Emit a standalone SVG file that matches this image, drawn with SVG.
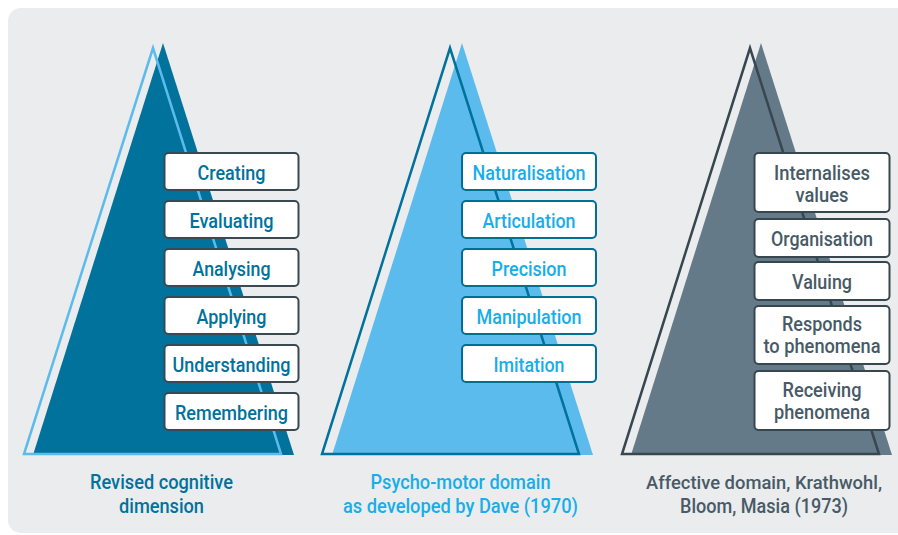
<svg xmlns="http://www.w3.org/2000/svg" width="898" height="535" viewBox="0 0 898 535">
<style>
.t{font-family:Roboto,"Liberation Sans",sans-serif;font-weight:500;font-size:20px;text-anchor:middle;}
.s{font-size:19px;}
.c1{fill:#00729c;}
.c2{fill:#17aeea;}
.c3{fill:#475a66;}
.b{fill:#ffffff;stroke-width:2;}
.b1{stroke:#3a4954;}
.b2{stroke:#006f94;}
.b3{stroke:#37474f;}
.o{fill:none;stroke-width:2.5;stroke-linejoin:miter;}
</style>
<rect x="8" y="8" width="906" height="525" rx="13" fill="#ebecee"/>
<g id="pyramid-cognitive">
<polygon points="163,43 294,455 33,455" fill="#00729c"/>
<polygon class="o" points="153,48 281,454 24,454" stroke="#5bbbed"/>
</g>
<g id="pyramid-psychomotor">
<polygon points="462,43 593,455 332,455" fill="#5bbbed"/>
<polygon class="o" points="450,48 579,454 322,454" stroke="#00729c"/>
</g>
<g id="pyramid-affective">
<polygon points="761,43 892,455 631,455" fill="#657a89"/>
<polygon class="o" points="750,48 879,454 622,454" stroke="#37474f"/>
</g>
<g id="connectors"></g>
<g id="creating"><rect class="b b1" x="164.5" y="153" width="134" height="37" rx="4"/><text class="t c1" x="231.5" y="180" textLength="68" lengthAdjust="spacingAndGlyphs">Creating</text></g>
<g id="evaluating"><rect class="b b1" x="164.5" y="201" width="134" height="37" rx="4"/><text class="t c1" x="231.5" y="228" textLength="84" lengthAdjust="spacingAndGlyphs">Evaluating</text></g>
<g id="analysing"><rect class="b b1" x="164.5" y="249" width="134" height="37" rx="4"/><text class="t c1" x="231.5" y="276" textLength="78" lengthAdjust="spacingAndGlyphs">Analysing</text></g>
<g id="applying"><rect class="b b1" x="164.5" y="297" width="134" height="37" rx="4"/><text class="t c1" x="231.5" y="324" textLength="70" lengthAdjust="spacingAndGlyphs">Applying</text></g>
<g id="understanding"><rect class="b b1" x="164.5" y="345" width="134" height="37" rx="4"/><text class="t c1" x="231.5" y="372" textLength="118" lengthAdjust="spacingAndGlyphs">Understanding</text></g>
<g id="remembering"><rect class="b b1" x="164.5" y="393" width="134" height="37" rx="4"/><text class="t c1" x="231.5" y="420" textLength="113" lengthAdjust="spacingAndGlyphs">Remembering</text></g>
<g id="naturalisation"><rect class="b b2" x="462" y="153" width="134" height="37" rx="4"/><text class="t c2" x="529" y="180" textLength="113" lengthAdjust="spacingAndGlyphs">Naturalisation</text></g>
<g id="articulation"><rect class="b b2" x="462" y="201" width="134" height="37" rx="4"/><text class="t c2" x="529" y="228" textLength="93" lengthAdjust="spacingAndGlyphs">Articulation</text></g>
<g id="precision"><rect class="b b2" x="462" y="249" width="134" height="37" rx="4"/><text class="t c2" x="529" y="276" textLength="75" lengthAdjust="spacingAndGlyphs">Precision</text></g>
<g id="manipulation"><rect class="b b2" x="462" y="297" width="134" height="37" rx="4"/><text class="t c2" x="529" y="324" textLength="105" lengthAdjust="spacingAndGlyphs">Manipulation</text></g>
<g id="imitation"><rect class="b b2" x="462" y="345" width="134" height="37" rx="4"/><text class="t c2" x="529" y="372" textLength="71" lengthAdjust="spacingAndGlyphs">Imitation</text></g>
<g id="internalises"><rect class="b b3" x="754.5" y="153" width="135" height="59" rx="4"/><text class="t c3" x="822" y="180" textLength="96" lengthAdjust="spacingAndGlyphs">Internalises</text><text class="t c3" x="822" y="202" textLength="53" lengthAdjust="spacingAndGlyphs">values</text></g>
<g id="organisation"><rect class="b b3" x="754.5" y="219" width="135" height="38" rx="4"/><text class="t c3" x="822" y="246" textLength="102" lengthAdjust="spacingAndGlyphs">Organisation</text></g>
<g id="valuing"><rect class="b b3" x="754.5" y="262" width="135" height="38" rx="4"/><text class="t c3" x="822" y="289" textLength="60" lengthAdjust="spacingAndGlyphs">Valuing</text></g>
<g id="responds"><rect class="b b3" x="754.5" y="306" width="135" height="58" rx="4"/><text class="t c3" x="822" y="331" textLength="80" lengthAdjust="spacingAndGlyphs">Responds</text><text class="t c3" x="822" y="353" textLength="117" lengthAdjust="spacingAndGlyphs">to phenomena</text></g>
<g id="receiving"><rect class="b b3" x="754.5" y="371" width="135" height="59" rx="4"/><text class="t c3" x="822" y="397" textLength="79" lengthAdjust="spacingAndGlyphs">Receiving</text><text class="t c3" x="822" y="419" textLength="96" lengthAdjust="spacingAndGlyphs">phenomena</text></g>
<g id="caption-cognitive"><text class="t c1" x="161.5" y="489" textLength="143" lengthAdjust="spacingAndGlyphs">Revised cognitive</text><text class="t c1" x="161.5" y="513" textLength="85" lengthAdjust="spacingAndGlyphs">dimension</text></g>
<g id="caption-psychomotor"><text class="t c2" x="460.5" y="489" textLength="180" lengthAdjust="spacingAndGlyphs">Psycho-motor domain</text><text class="t c2" x="460.5" y="513" textLength="235" lengthAdjust="spacingAndGlyphs">as developed by Dave (1970)</text></g>
<g id="caption-affective"><text class="t s c3" x="764" y="489" textLength="236" lengthAdjust="spacingAndGlyphs">Affective domain, Krathwohl,</text><text class="t c3" x="764" y="513" textLength="168" lengthAdjust="spacingAndGlyphs">Bloom, Masia (1973)</text></g>
</svg>
